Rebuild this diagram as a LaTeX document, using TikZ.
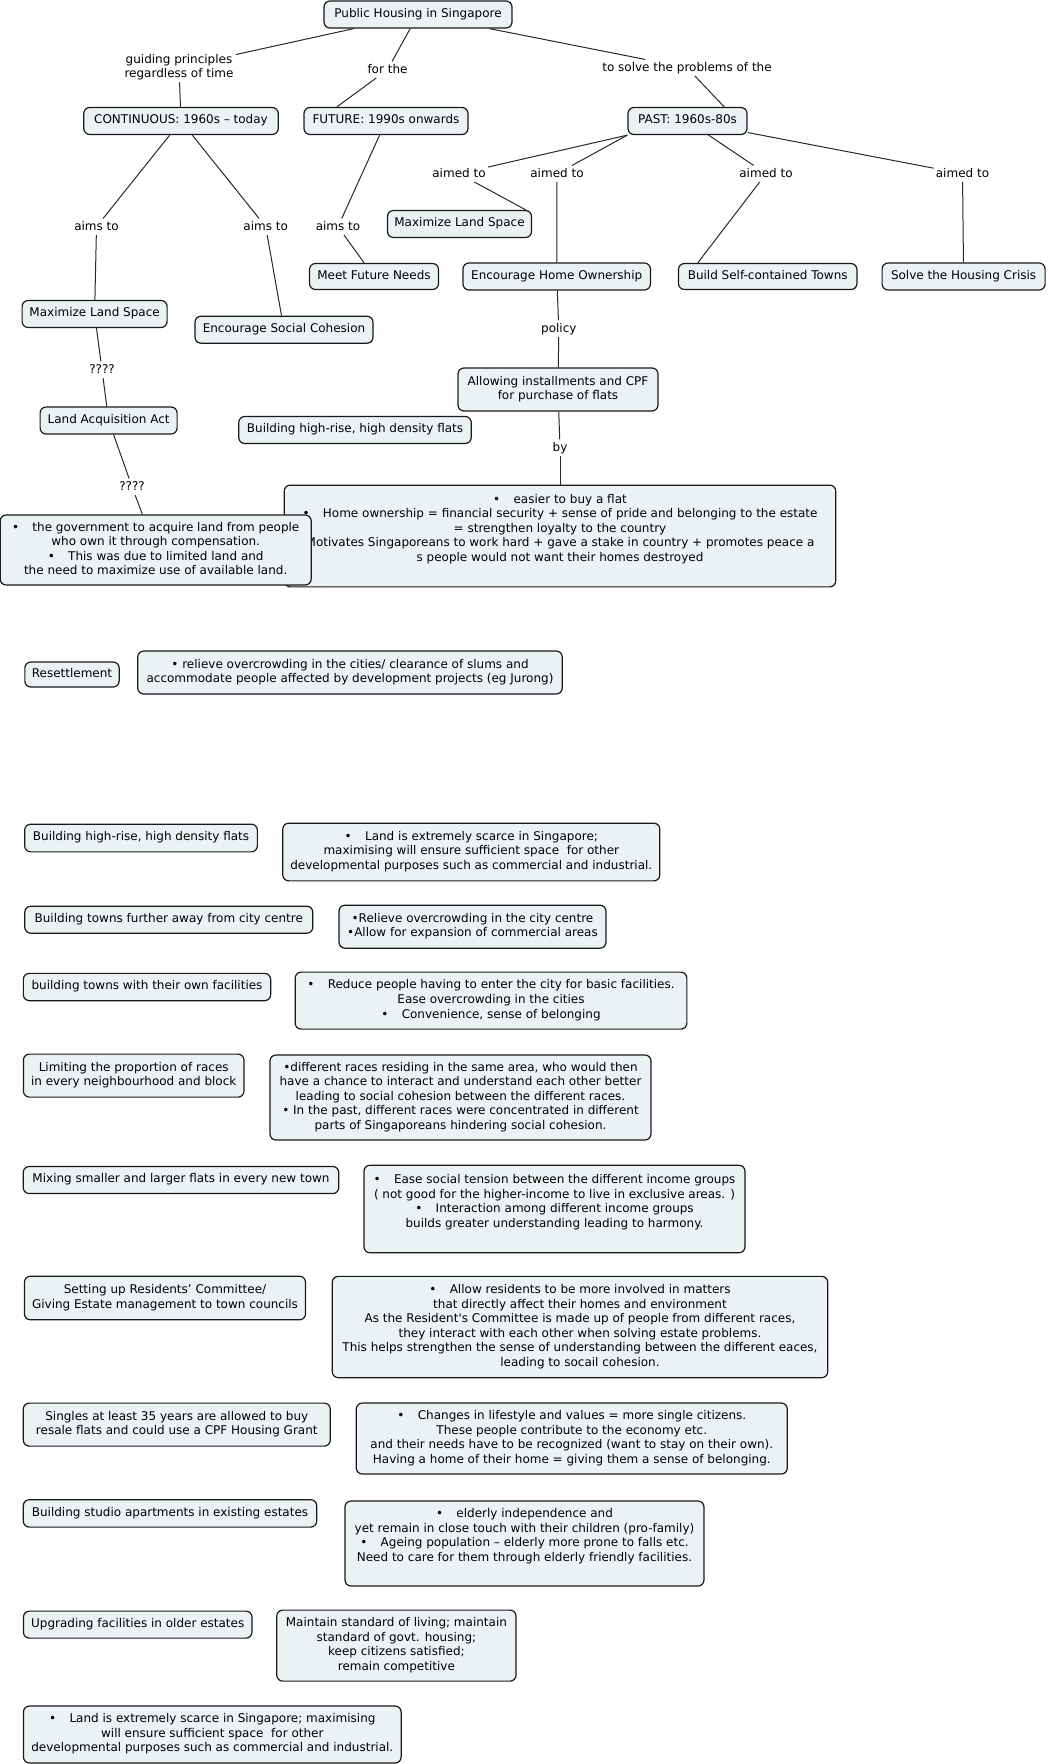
\documentclass[tikz,border=0pt]{standalone}
\usepackage{fontspec}
\setmainfont{DejaVu Sans}
\definecolor{boxfill}{RGB}{235,242,244}
\definecolor{boxline}{RGB}{25,25,25}
\definecolor{linkc}{RGB}{40,40,40}
\newcommand\bgap{\hspace{10pt}}
\tikzset{
  box/.style={draw=boxline, line width=0.9pt, fill=boxfill, rounded corners=4.5pt,
    inner sep=0pt, font=\fontsize{9}{10.9}\selectfont},
  lbl/.style={inner sep=1.5pt, text height=7pt, text depth=2pt, font=\fontsize{9}{10.9}\selectfont},
  lbltwo/.style={inner sep=1.5pt, align=center, font=\fontsize{9}{10.9}\selectfont},
  link/.style={draw=linkc, line width=0.75pt},
}
% name, x, y (centre), width, height, text  -- text vertically centred
\newcommand\mkbox[6]{%
  \pgfmathsetlengthmacro\bw{#4*0.75pt}%
  \pgfmathsetlengthmacro\bh{#5*0.75pt}%
  \node[box] (#1) at (#2,#3) {\parbox[c][\bh][c]{\bw}{\centering\begin{tabular}{@{}c@{}}#6\end{tabular}\par}};}
% name, x, y (centre), width, height, top space, text -- text at top
\newcommand\mktbox[7]{%
  \pgfmathsetlengthmacro\bw{#4*0.75pt}%
  \pgfmathsetlengthmacro\bh{#5*0.75pt}%
  \node[box] (#1) at (#2,#3) {\parbox[c][\bh][t]{\bw}{\vspace*{#6}\centering\begin{tabular}{@{}c@{}}#7\end{tabular}\par}};}
\begin{document}
\begin{tikzpicture}[x=0.75pt,y=-0.75pt]
\useasboundingbox (0,0) rectangle (1047,1764);
% concept map part
\mkbox{ph}{418}{14.5}{188}{27}{Public Housing in Singapore}
\mkbox{cont}{181}{121}{194.5}{27}{CONTINUOUS: 1960s – today}
\mkbox{fut}{386}{121}{164}{27}{FUTURE: 1990s onwards}
\mkbox{past}{687.5}{121}{119}{27}{PAST: 1960s-80s}
\mkbox{mlstwo}{459.5}{224}{144}{27}{Maximize Land Space}
\mkbox{mfn}{374}{276.5}{129}{26}{Meet Future Needs}
\mkbox{eho}{556.7}{276.5}{187.4}{27}{Encourage Home Ownership}
\mkbox{bst}{767.7}{276.5}{178.5}{26}{Build Self-contained Towns}
\mkbox{shc}{963.6}{276.5}{163}{27}{Solve the Housing Crisis}
\mkbox{mlsone}{94.6}{314}{145}{27}{Maximize Land Space}
\mkbox{esc}{284}{329.7}{178}{27}{Encourage Social Cohesion}
\mkbox{alw}{558}{389.5}{200}{43}{Allowing installments and CPF\\ for purchase of flats}
\mkbox{laa}{108.6}{420.5}{137}{27}{Land Acquisition Act}
\mkbox{bhrf}{355}{430}{232.5}{27}{Building high-rise, high density flats}
\mktbox{bb}{560}{536}{551.5}{101.7}{6pt}{•\bgap easier to buy a flat\\
  •\bgap Home ownership = financial security + sense of pride and belonging to the estate\\
  = strengthen loyalty to the country\\
  Motivates Singaporeans to work hard + gave a stake in country + promotes peace a\\
  s people would not want their homes destroyed}
\mkbox{lb}{155.7}{550}{311}{70}{•\bgap the government to acquire land from people\\
  who own it through compensation.\\
  •\bgap This was due to limited land and\\
  the need to maximize use of available land.}
% labels
\node[lbltwo] (guide) at (179,67) {guiding principles\\ regardless of time};
\node[lbl] (forthe) at (387.5,69.7) {for the};
\node[lbl] (tosolve) at (687,67.7) {to solve the problems of the};
\node[lbl] (aimone) at (459,173.7) {aimed to};
\node[lbl] (aimtwo) at (557,173.7) {aimed to};
\node[lbl] (aimthree) at (766,173.7) {aimed to};
\node[lbl] (aimfour) at (962.5,173.7) {aimed to};
\node[lbl] (aimsone) at (96.5,226.7) {aims to};
\node[lbl] (aimstwo) at (265.7,226.7) {aims to};
\node[lbl] (aimsthree) at (338,226.7) {aims to};
\node[lbl] (qone) at (102,369.7) {????};
\node[lbl] (qtwo) at (132,486.7) {????};
\node[lbl] (policy) at (558.8,328.7) {policy};
\node[lbl] (by) at (560,447.7) {by};
% connectors
\draw[link] (ph) -- (guide);
\draw[link] (guide) -- (cont);
\draw[link] (ph) -- (forthe);
\draw[link] (forthe) -- (fut.164);
\draw[link] (ph) -- (tosolve);
\draw[link] (tosolve) -- (past.21);
\draw[link] (past.south west) -- (aimone);
\draw[link] (past.south west) -- (aimtwo);
\draw[link] (past) -- (aimthree);
\draw[link] (past) -- (aimfour);
\draw[link] (aimone) -- (mlstwo.12);
\draw[link] (aimtwo) -- (eho);
\draw[link] (aimthree) -- (bst.169.5);
\draw[link] (aimfour) -- (shc);
\draw[link] (cont) -- (aimsone);
\draw[link] (cont) -- (aimstwo);
\draw[link] (aimsone) -- (mlsone);
\draw[link] (aimstwo) -- (esc);
\draw[link] (fut) -- (aimsthree);
\draw[link] (aimsthree) -- (mfn);
\draw[link] (mlsone) -- (qone);
\draw[link] (qone) -- (laa);
\draw[link] (laa) -- (qtwo);
\draw[link] (qtwo) -- (lb);
\draw[link] (eho) -- (policy);
\draw[link] (policy) -- (alw);
\draw[link] (alw) -- (by);
\draw[link] (by) -- (bb);
% lower table
\mkbox{rs}{72}{674.5}{94.3}{25}{Resettlement}
\mkbox{rst}{350}{672.5}{424.5}{43}{• relieve overcrowding in the cities/ clearance of slums and\\
  accommodate people affected by development projects (eg Jurong)}
\mkbox{bhr}{141}{838}{232.7}{27.7}{Building high-rise, high density flats}
\mkbox{bhrt}{471.3}{852}{377}{57.7}{•\bgap Land is extremely scarce in Singapore;\\
  maximising will ensure sufficient space\ \ for other\\
  developmental purposes such as commercial and industrial.}
\mkbox{btf}{168.8}{919.7}{288}{27}{Building towns further away from city centre}
\mkbox{btft}{472.5}{926.7}{267}{43}{•Relieve overcrowding in the city centre\\
  •Allow for expansion of commercial areas}
\mkbox{bto}{147}{987}{247.3}{27.3}{building towns with their own facilities}
\mkbox{btot}{491}{1000.6}{391.7}{57}{•\bgap Reduce people having to enter the city for basic facilities.\\
  Ease overcrowding in the cities\\
  •\bgap Convenience, sense of belonging}
\mkbox{lim}{133.7}{1075.6}{220.6}{43}{Limiting the proportion of races\\ in every neighbourhood and block}
\mkbox{limt}{460.5}{1097.5}{381}{85}{•different races residing in the same area, who would then\\
  have a chance to interact and understand each other better\\
  leading to social cohesion between the different races.\\
  • In the past, different races were concentrated in different\\
  parts of Singaporeans hindering social cohesion.}
\mkbox{mix}{181}{1180}{315.6}{27}{Mixing smaller and larger flats in every new town}
\mktbox{mixt}{554.5}{1209}{381}{87.5}{6.1pt}{•\bgap Ease social tension between the different income groups\\
  ( not good for the higher-income to live in exclusive areas. )\\
  •\bgap Interaction among different income groups\\
  builds greater understanding leading to harmony.}
\mkbox{set}{165}{1298}{281}{43.6}{Setting up Residents’ Committee/\\ Giving Estate management to town councils}
\mkbox{sett}{580}{1327}{495.5}{101.3}{•\bgap Allow residents to be more involved in matters\\
  that directly affect their homes and environment\\
  As the Resident\textquotesingle s Committee is made up of people from different races,\\
  they interact with each other when solving estate problems.\\
  This helps strengthen the sense of understanding between the different eaces,\\
  leading to socail cohesion.}
\mkbox{sin}{176.8}{1424.6}{307}{43}{Singles at least 35 years are allowed to buy\\ resale flats and could use a CPF Housing Grant}
\mkbox{sint}{571.8}{1438.5}{431}{71}{•\bgap Changes in lifestyle and values = more single citizens.\\
  These people contribute to the economy etc.\\
  and their needs have to be recognized (want to stay on their own).\\
  Having a home of their home = giving them a sense of belonging.}
\mkbox{stu}{170}{1513.4}{293.4}{27.4}{Building studio apartments in existing estates}
\mktbox{stut}{524.5}{1543.5}{359}{85}{4.8pt}{•\bgap elderly independence and\\
  yet remain in close touch with their children (pro-family)\\
  •\bgap Ageing population – elderly more prone to falls etc.\\
  Need to care for them through elderly friendly facilities.}
\mkbox{upg}{137.7}{1624.6}{228.6}{27}{Upgrading facilities in older estates}
\mkbox{upgt}{396.4}{1645.6}{239.3}{71}{Maintain standard of living; maintain\\
  standard of govt. housing;\\
  keep citizens satisfied;\\
  remain competitive}
\mkbox{bot}{212.3}{1734.5}{377.7}{57}{•\bgap Land is extremely scarce in Singapore; maximising\\
  will ensure sufficient space\ \ for other\\
  developmental purposes such as commercial and industrial.}
\end{tikzpicture}
\end{document}
